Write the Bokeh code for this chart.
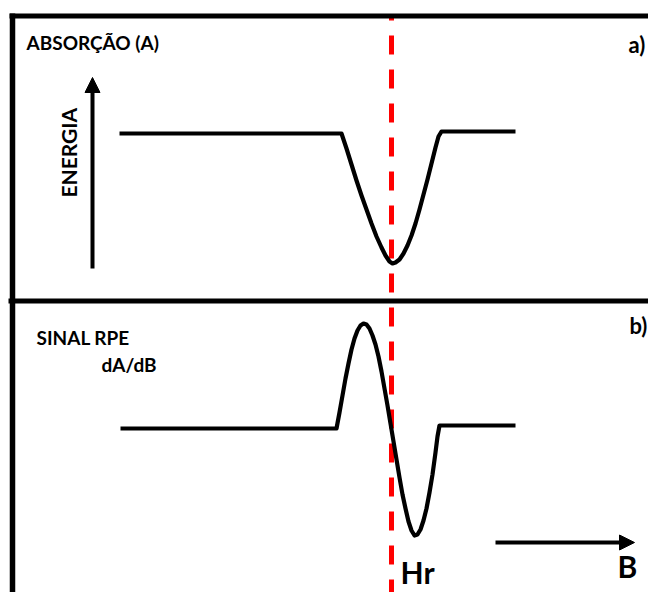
from bokeh.plotting import figure
from bokeh.models import Range1d, Arrow, NormalHead, ColumnDataSource
from bokeh.core.properties import value
from bokeh.embed import file_html
from bokeh.resources import INLINE

# ---- data (screen-like units, y grows downward) ----
# a) absorption line
abs_x = [119, 341, 346, 351, 356, 361, 366, 371, 376, 381, 385, 389, 392, 395,
         399, 403, 407, 411, 415, 419, 423, 427, 431, 435, 438, 441, 515]
abs_y = [133, 133, 148, 164, 180, 195, 209, 223, 236, 247, 255, 261, 263, 262,
         259, 253, 245, 235, 223, 209, 194, 179, 163, 147, 136, 131, 131]
# b) EPR signal (first derivative)
epr_x = [120, 336, 339, 342, 345, 348, 351, 354, 357, 360, 363, 366, 369, 372,
         375, 378, 381, 384, 387, 390, 393, 396, 399, 402, 405, 408, 411, 414,
         417, 420, 423, 426, 429, 432, 435, 437, 439, 515]
epr_y = [428, 428, 412, 395, 378, 363, 349, 338, 330, 325, 323, 324, 328, 335,
         344, 356, 371, 388, 405, 423, 441, 459, 477, 494, 508, 521, 530, 535,
         534, 529, 520, 508, 492, 474, 452, 436, 425, 425]
# resonance field Hr
hr_x = 391

labels = ["ABSORÇÃO (A)", "SINAL RPE", "dA/dB"]
panel_tags = ["a)", "b)"]

W, H = 648, 592
p = figure(width=W, height=H, x_range=Range1d(0, W), y_range=Range1d(H, 0),
           output_backend="svg", toolbar_location=None,
           x_axis_location=None, y_axis_location=None,
           min_border=0, outline_line_color=None)
p.grid.visible = False
p.background_fill_color = "white"
p.border_fill_color = "white"

# red dashed resonance line
p.line([hr_x, hr_x], [16, H], line_color="#ff0000", line_width=5,
       line_dash="19 15", line_dash_offset=15)

# frame: top border, left border, divider
p.line([9, W], [15.5, 15.5], line_color="black", line_width=5)
p.line([12, 12], [13, H], line_color="black", line_width=5.5)
p.line([8, W], [300.5, 300.5], line_color="black", line_width=5)

# curves
p.line(abs_x, abs_y, line_color="black", line_width=4.2, line_join="round")
p.line(epr_x, epr_y, line_color="black", line_width=4.2, line_join="round")

# arrows
p.add_layout(Arrow(end=NormalHead(size=15, fill_color="black", line_color="black", line_width=1),
                   x_start=92, y_start=268, x_end=92, y_end=77,
                   line_color="black", line_width=4))
p.add_layout(Arrow(end=NormalHead(size=15, fill_color="black", line_color="black", line_width=1),
                   x_start=495, y_start=542, x_end=634, y_end=542,
                   line_color="black", line_width=4))

font = value("Lato")
src = ColumnDataSource(dict(x=[26, 36, 101], y=[42, 337, 364], t=labels))
p.text(x="x", y="y", text="t", source=src, text_font=font, text_font_style="bold",
       text_font_size="19px", text_color="black", text_baseline="alphabetic")
p.text(x=[628, 629], y=[44, 325], text=panel_tags, text_font=font, text_font_style="bold",
       text_font_size="22px", text_color="black", text_baseline="alphabetic")
p.text(x=[68], y=[197], text=["ENERGIA"], angle=1.5708, text_font=font,
       text_font_style="bold", text_font_size="21px", text_color="black",
       text_baseline="alphabetic")
p.text(x=[400, 617], y=[571, 565], text=["Hr", "B"], text_font=font,
       text_font_style="bold", text_font_size="30px", text_color="black",
       text_baseline="alphabetic")

open("out.html", "w").write(file_html(p, INLINE))
